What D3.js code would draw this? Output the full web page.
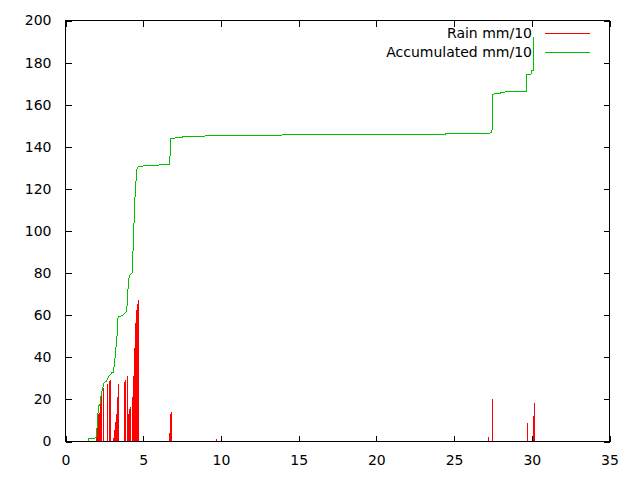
<!DOCTYPE html>
<html>
<head>
<meta charset="utf-8">
<script src="https://cdn.jsdelivr.net/npm/d3@7"></script>
<style>
  html, body { margin: 0; padding: 0; background: #fff; }
  svg { display: block; }
  text { font-family: "DejaVu Sans", sans-serif; font-size: 14px; fill: #000; }
</style>
</head>
<body>
<svg id="chart" width="640" height="480"></svg>
<script>
// Rain (mm/10) impulses: day and value
const rainDays = [1.99, 2.06, 2.12, 2.19, 2.25, 2.32, 2.44, 2.70, 2.83, 2.90,
  3.09, 3.15, 3.22, 3.28, 3.35, 3.41, 3.80, 3.86, 3.99, 4.05, 4.12, 4.18,
  4.31, 4.38, 4.44, 4.50, 4.57, 4.63, 4.70, 6.69, 6.76, 6.82, 9.71,
  27.21, 27.47, 29.72, 30.05, 30.11, 30.18];
const rainValues = [4.4, 8.9, 13.3, 13.7, 17.8, 22.5, 25.4, 27.3, 28.6, 29.2,
  1.9, 5.4, 9.2, 13, 21.3, 27.3, 28.3, 29.2, 31.1, 13, 15.6, 16.5,
  21.3, 31.1, 44.4, 56.5, 62.5, 65.4, 67.3, 4.1, 13.3, 14.0, 1.1,
  2, 20, 9, 1, 12, 18.3];

// Accumulated (mm/10)
const accDays = [1.45, 1.49, 1.88, 1.96, 2.01, 2.05, 2.09, 2.14, 2.22, 2.30,
  2.39, 2.48, 2.56, 2.65, 2.73, 2.82, 2.91, 2.99, 3.08, 3.12, 3.17, 3.20,
  3.25, 3.29, 3.33, 3.38, 3.42, 3.64, 3.72, 3.89, 3.94, 3.98, 4.02, 4.07,
  4.10, 4.19, 4.28, 4.32, 4.36, 4.43, 4.49, 4.56, 4.60, 4.68, 5.18, 6.19,
  6.68, 6.72, 6.77, 7.54, 7.56, 8.97, 8.99, 13.93, 27.24, 27.44, 27.47,
  28.00, 28.02, 29.67, 29.69, 29.99, 30.01, 30.10, 30.11, 30.16];
const accValues = [0.5, 1.3, 1.6, 1.9, 5, 8.6, 13.3, 17, 17.8, 22.5,
  25.4, 27.9, 28.4, 28.6, 30.2, 31.4, 32, 32.7, 33, 35.2, 37.8, 41.6,
  45, 46, 53, 59, 59.4, 59.7, 60.3, 61.6, 62.2, 67.3, 72, 76.8,
  78.7, 79.4, 80, 84.8, 95, 107.8, 119.7, 126, 129.5, 130.5, 131.1, 131.4,
  131.7, 134.7, 144.1, 144.3, 144.9, 145.0, 145.4, 145.6, 146.2, 147, 165,
  165.4, 166.0, 166.2, 174.3, 174.6, 176.2, 176.3, 191.9, 192];

const xTicks = [0, 5, 10, 15, 20, 25, 30, 35];
const yTicks = [0, 20, 40, 60, 80, 100, 120, 140, 160, 180, 200];
const seriesNames = ["Rain mm/10", "Accumulated mm/10"];
const seriesColors = ["#ff0000", "#00c000"];

const svg = d3.select("#chart");
svg.append("rect").attr("width", 640).attr("height", 480).attr("fill", "#fff");

const L = 65.5, R = 609.5, T = 20.5, B = 441.5;
const x = d3.scaleLinear().domain([0, 35]).range([L, R]);
const y = d3.scaleLinear().domain([0, 200]).range([B, T]);

// Rain impulses
const rain = rainDays.map((d, i) => ({ d, v: rainValues[i] }));
svg.append("g").selectAll("line").data(rain).join("line")
  .attr("x1", d => Math.floor(x(d.d)) + 0.5)
  .attr("x2", d => Math.floor(x(d.d)) + 0.5)
  .attr("y1", y(0))
  .attr("y2", d => y(d.v))
  .attr("stroke", seriesColors[0])
  .attr("stroke-width", 1)
  .attr("shape-rendering", "crispEdges");

// Accumulated line
const acc = accDays.map((d, i) => ({ d, v: accValues[i] }));
svg.append("path").datum(acc)
  .attr("d", d3.line().x(d => x(d.d)).y(d => y(d.v)))
  .attr("fill", "none")
  .attr("stroke", seriesColors[1])
  .attr("stroke-width", 1)
  .attr("shape-rendering", "crispEdges");

// Axes with inward ticks, mirrored
const tk = 6;
const axB = d3.axisBottom(x).tickValues(xTicks).tickSizeInner(-tk).tickSizeOuter(0).tickPadding(14);
const axL = d3.axisLeft(y).tickValues(yTicks).tickSizeInner(-tk).tickSizeOuter(0).tickPadding(14);
const axT = d3.axisTop(x).tickValues(xTicks).tickSizeInner(-tk).tickSizeOuter(0).tickFormat("");
const axR = d3.axisRight(y).tickValues(yTicks).tickSizeInner(-tk).tickSizeOuter(0).tickFormat("");

function style(g) {
  g.select(".domain").remove();
  g.selectAll("line").attr("stroke", "#000").attr("shape-rendering", "crispEdges");
  g.selectAll("text").attr("font-family", "DejaVu Sans, sans-serif").attr("font-size", 14).attr("fill", "#000");
}
svg.append("g").attr("transform", `translate(0,${B})`).call(axB).call(style);
svg.append("g").attr("transform", `translate(${L},0)`).call(axL).call(style);
svg.append("g").attr("transform", `translate(0,${T})`).call(axT).call(style);
svg.append("g").attr("transform", `translate(${R},0)`).call(axR).call(style);

// Border
svg.append("rect").attr("x", L).attr("y", T).attr("width", R - L).attr("height", B - T)
  .attr("fill", "none").attr("stroke", "#000").attr("stroke-width", 1)
  .attr("shape-rendering", "crispEdges");

// Legend
const leg = svg.append("g");
seriesNames.forEach((name, i) => {
  const yy = 33.5 + i * 19;
  leg.append("text").attr("x", 532).attr("y", yy).attr("dy", "0.35em")
    .attr("text-anchor", "end").text(name);
  leg.append("line").attr("x1", 545).attr("x2", 590).attr("y1", yy).attr("y2", yy)
    .attr("stroke", seriesColors[i]).attr("stroke-width", 1)
    .attr("shape-rendering", "crispEdges");
});
</script>
</body>
</html>
